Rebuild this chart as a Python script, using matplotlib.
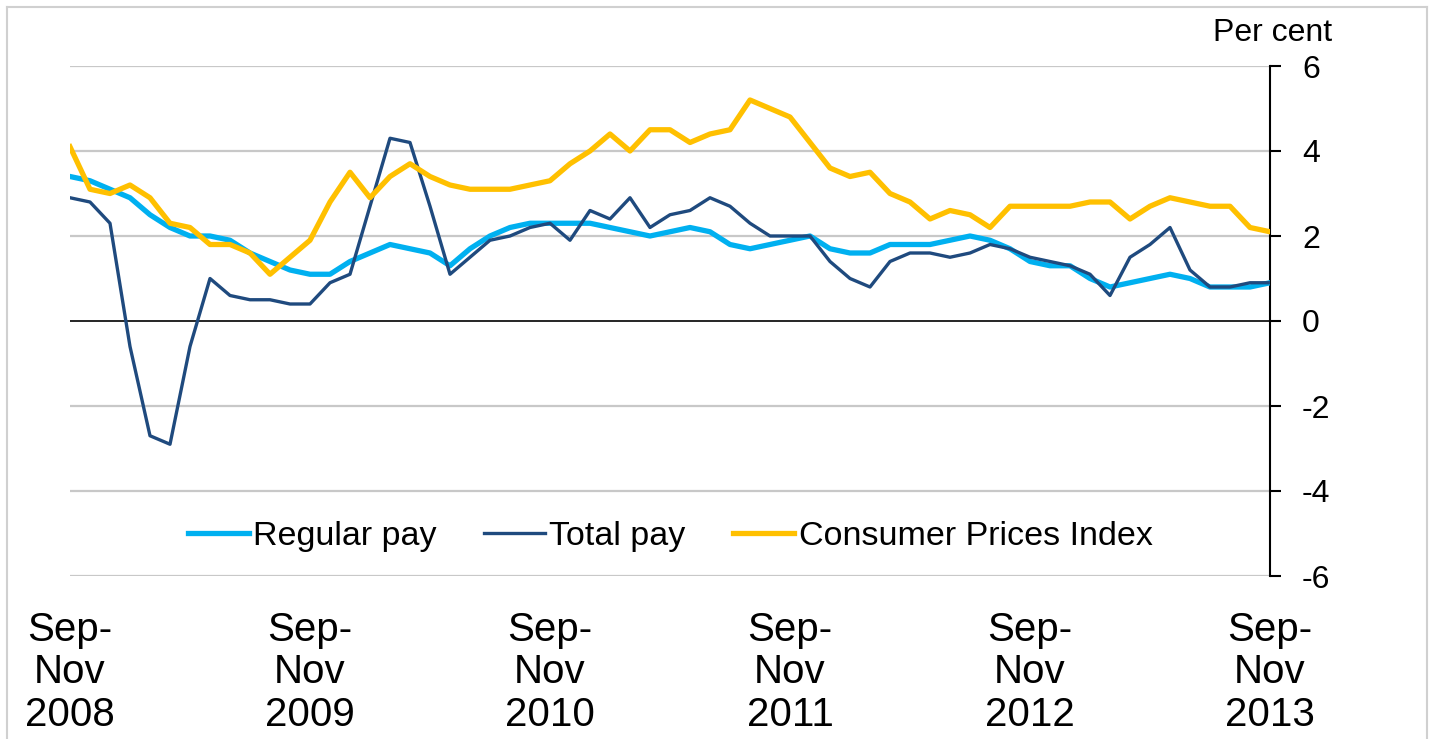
import matplotlib
matplotlib.use("Agg")

import matplotlib.pyplot as plt
from matplotlib.lines import Line2D

# data: three-month average growth, per cent, Sep-Nov 2008 .. Sep-Nov 2013
regular_pay = [3.4, 3.3, 3.1, 2.9, 2.5, 2.2, 2.0, 2.0, 1.9, 1.6,
               1.4, 1.2, 1.1, 1.1, 1.4, 1.6, 1.8, 1.7, 1.6, 1.3,
               1.7, 2.0, 2.2, 2.3, 2.3, 2.3, 2.3, 2.2, 2.1, 2.0,
               2.1, 2.2, 2.1, 1.8, 1.7, 1.8, 1.9, 2.0, 1.7, 1.6,
               1.6, 1.8, 1.8, 1.8, 1.9, 2.0, 1.9, 1.7, 1.4, 1.3,
               1.3, 1.0, 0.8, 0.9, 1.0, 1.1, 1.0, 0.8, 0.8, 0.8,
               0.9]
total_pay = [2.9, 2.8, 2.3, -0.6, -2.7, -2.9, -0.6, 1.0, 0.6, 0.5,
             0.5, 0.4, 0.4, 0.9, 1.1, 2.7, 4.3, 4.2, 2.7, 1.1,
             1.5, 1.9, 2.0, 2.2, 2.3, 1.9, 2.6, 2.4, 2.9, 2.2,
             2.5, 2.6, 2.9, 2.7, 2.3, 2.0, 2.0, 2.0, 1.4, 1.0,
             0.8, 1.4, 1.6, 1.6, 1.5, 1.6, 1.8, 1.7, 1.5, 1.4,
             1.3, 1.1, 0.6, 1.5, 1.8, 2.2, 1.2, 0.8, 0.8, 0.9,
             0.9]
cpi = [4.1, 3.1, 3.0, 3.2, 2.9, 2.3, 2.2, 1.8, 1.8, 1.6,
       1.1, 1.5, 1.9, 2.8, 3.5, 2.9, 3.4, 3.7, 3.4, 3.2,
       3.1, 3.1, 3.1, 3.2, 3.3, 3.7, 4.0, 4.4, 4.0, 4.5,
       4.5, 4.2, 4.4, 4.5, 5.2, 5.0, 4.8, 4.2, 3.6, 3.4,
       3.5, 3.0, 2.8, 2.4, 2.6, 2.5, 2.2, 2.7, 2.7, 2.7,
       2.7, 2.8, 2.8, 2.4, 2.7, 2.9, 2.8, 2.7, 2.7, 2.2,
       2.1]

tick_pos = [0, 12, 24, 36, 48, 60]
tick_labels = ["Sep-\nNov\n2008", "Sep-\nNov\n2009", "Sep-\nNov\n2010",
               "Sep-\nNov\n2011", "Sep-\nNov\n2012", "Sep-\nNov\n2013"]
y_ticks = [6, 4, 2, 0, -2, -4, -6]

plt.rcParams["font.family"] = ["Liberation Sans", "DejaVu Sans"]

W, H = 1432, 739
fig = plt.figure(figsize=(W / 100, H / 100), dpi=100)
ax = fig.add_axes([70 / W, 1 - 576 / H, 1200 / W, 510 / H])

x = list(range(len(cpi)))

# grid
for v in y_ticks:
    if v == 0:
        ax.axhline(0, color="black", lw=1.2, zorder=2)
    else:
        ax.axhline(v, color="#c8c8c8", lw=1.6, zorder=1)

ax.plot(x, regular_pay, color="#00b0f0", lw=3.8, label="Regular pay", zorder=3,
        solid_joinstyle="round")
ax.plot(x, total_pay, color="#1f4a7e", lw=2.4, label="Total pay", zorder=4,
        solid_joinstyle="round")
ax.plot(x, cpi, color="#ffc000", lw=3.8, label="Consumer Prices Index", zorder=5,
        solid_joinstyle="round")

ax.set_xlim(0, 60)
ax.set_ylim(-6, 6)

for s in ["left", "top", "bottom"]:
    ax.spines[s].set_visible(False)
ax.spines["right"].set_linewidth(1.5)
ax.spines["right"].set_color("black")

ax.yaxis.tick_right()
ax.set_yticks(y_ticks)
ax.set_yticklabels([str(v) for v in y_ticks])
ax.tick_params(axis="y", direction="out", length=8, width=1.5, pad=15,
               labelsize=23, colors="black")

ax.set_xticks(tick_pos)
ax.set_xticklabels(tick_labels, fontsize=29, linespacing=1.15)
ax.tick_params(axis="x", length=0, pad=25)

leg = ax.legend(loc="center", bbox_to_anchor=(0.5, 0.078), ncol=3,
                frameon=False, fontsize=24.5, handlelength=1.8,
                handletextpad=0.12, columnspacing=1.4)

fig.text(1332 / W, 1 - 33 / H, "Per cent", ha="right", va="center", fontsize=23)

# light grey outer frame
fc = "#d0d0d0"
fig.add_artist(Line2D([7 / W, 7 / W], [0, 1 - 7 / H], color=fc, lw=1.5))
fig.add_artist(Line2D([7 / W, 1427 / W], [1 - 7 / H, 1 - 7 / H], color=fc, lw=1.5))
fig.add_artist(Line2D([1427 / W, 1427 / W], [0, 1 - 7 / H], color=fc, lw=1.5))

fig.savefig("out.png", dpi=100)
